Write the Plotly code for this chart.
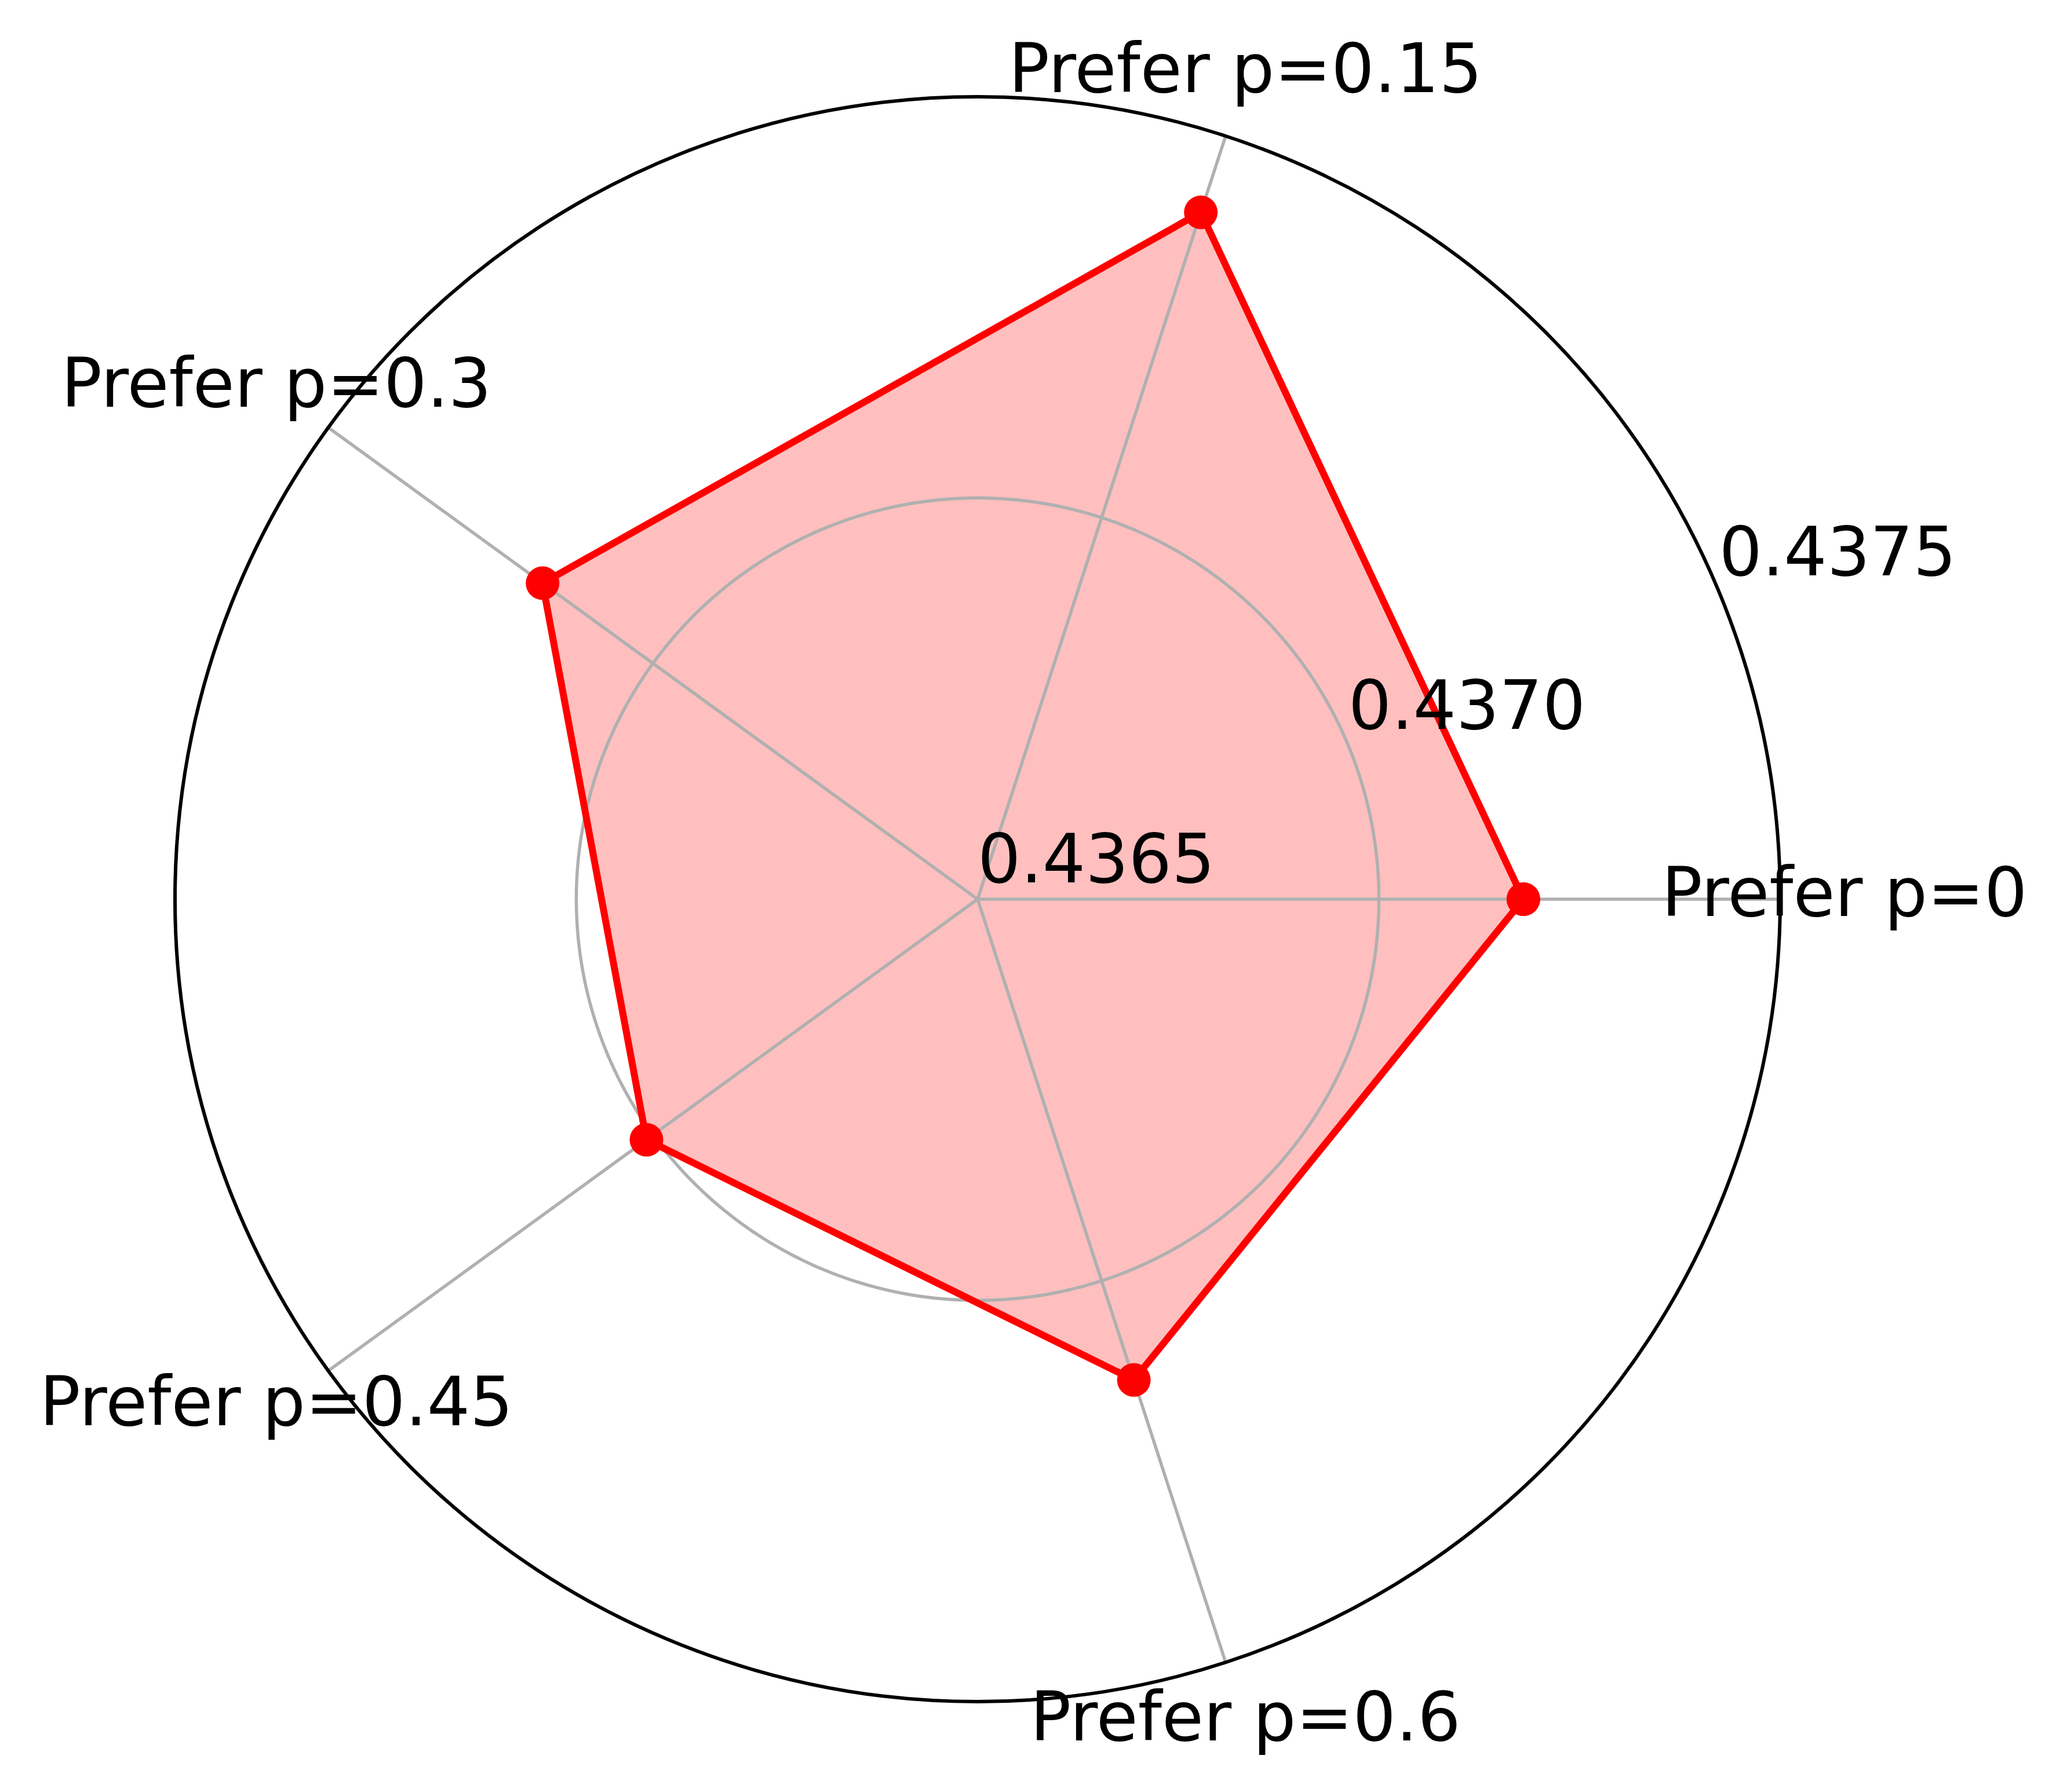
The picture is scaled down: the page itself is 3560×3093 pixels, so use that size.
import plotly.graph_objects as go

categories = ["Prefer p=0", "Prefer p=0.15", "Prefer p=0.3", "Prefer p=0.45", "Prefer p=0.6"]
values = [0.43718, 0.43740, 0.43717, 0.43701, 0.43713]
radial_ticks = [0.4365, 0.4370, 0.4375]
radial_tick_labels = ["0.4365", "0.4370", "0.4375"]
r_min, r_max = 0.4365, 0.4375
label_r = 0.43758
tick_angle_deg = 22.5

FONT = "DejaVu Sans"
FS = 117
GRID = "#b0b0b0"
GW = 5.5

W, H = 3560, 3093
cx, cy = 1679, 1544          # polar centre in px (from top-left)
R1 = 1385                    # main polar radius in px
R2 = 1540                    # overlay polar radius in px (for outside labels)

angles = [i * 360 / len(categories) for i in range(len(categories))]

fig = go.Figure()

# filled area (below grid, like matplotlib)
fig.add_trace(go.Scatterpolar(
    r=values + values[:1],
    theta=angles + angles[:1],
    mode="lines",
    fill="toself",
    fillcolor="rgba(255,0,0,0.25)",
    line=dict(color="rgba(0,0,0,0)", width=0),
    showlegend=False, hoverinfo="skip", subplot="polar",
))

# grid drawn above fill: spokes
for a in angles:
    fig.add_trace(go.Scatterpolar(
        r=[r_min, r_max], theta=[a, a], mode="lines",
        line=dict(color=GRID, width=GW),
        showlegend=False, hoverinfo="skip", subplot="polar",
    ))
# grid circle for inner tick
circle_theta = list(range(0, 361))
for t in radial_ticks[1:-1]:
    fig.add_trace(go.Scatterpolar(
        r=[t] * len(circle_theta), theta=circle_theta, mode="lines",
        line=dict(color=GRID, width=GW),
        showlegend=False, hoverinfo="skip", subplot="polar",
    ))

# data line + markers
fig.add_trace(go.Scatterpolar(
    r=values + values[:1],
    theta=angles + angles[:1],
    mode="lines+markers",
    line=dict(color="#ff0000", width=12),
    marker=dict(color="#ff0000", size=58),
    cliponaxis=False,
    showlegend=False, hoverinfo="skip", subplot="polar",
))

# radial tick labels (matplotlib style: at 22.5 deg, bottom-left anchored)
fig.add_trace(go.Scatterpolar(
    r=radial_ticks,
    theta=[tick_angle_deg] * len(radial_ticks),
    mode="text",
    text=radial_tick_labels,
    textposition="top right",
    textfont=dict(family=FONT, size=FS, color="black"),
    cliponaxis=False,
    showlegend=False, hoverinfo="skip", subplot="polar",
))

# category labels on a larger, invisible overlay polar with the same centre and scale
fig.add_trace(go.Scatterpolar(
    r=[label_r] * len(categories),
    theta=angles,
    mode="text",
    text=categories,
    textposition="middle center",
    textfont=dict(family=FONT, size=FS, color="black"),
    cliponaxis=False,
    showlegend=False, hoverinfo="skip", subplot="polar2",
))

hidden_radial = dict(showticklabels=False, ticks="", showline=False, showgrid=False)
hidden_angular = dict(showticklabels=False, ticks="", showline=False, showgrid=False,
                      rotation=0, direction="counterclockwise")

fig.update_layout(
    width=W,
    height=H,
    margin=dict(l=0, r=0, t=0, b=0),
    paper_bgcolor="white",
    plot_bgcolor="white",
    showlegend=False,
    polar=dict(
        domain=dict(x=[(cx - R1) / W, (cx + R1) / W],
                    y=[(H - cy - R1) / H, (H - cy + R1) / H]),
        bgcolor="white",
        radialaxis=dict(range=[r_min, r_max], tickvals=radial_ticks, **hidden_radial),
        angularaxis=dict(
            tickmode="array",
            tickvals=angles,
            rotation=0,
            direction="counterclockwise",
            showticklabels=False,
            ticks="",
            showline=True,
            linecolor="black",
            linewidth=6,
            showgrid=False,
        ),
    ),
    polar2=dict(
        domain=dict(x=[(cx - R2) / W, (cx + R2) / W],
                    y=[(H - cy - R2) / H, (H - cy + R2) / H]),
        bgcolor="rgba(0,0,0,0)",
        radialaxis=dict(range=[r_min, r_min + (r_max - r_min) * R2 / R1], **hidden_radial),
        angularaxis=hidden_angular,
    ),
)

fig.write_html("out.html")
